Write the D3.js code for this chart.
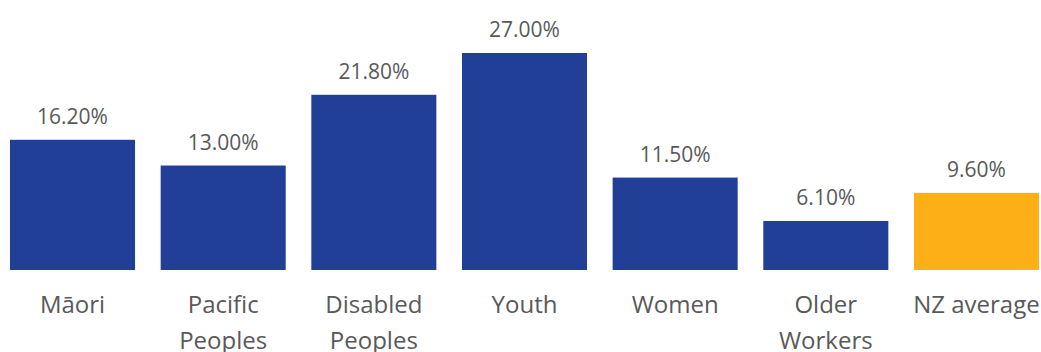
<!DOCTYPE html>
<html>
<head>
<meta charset="utf-8">
<script src="https://cdn.jsdelivr.net/npm/d3@7"></script>
<style>
  body { margin: 0; background: #fff; }
  text { font-family: "Open Sans", sans-serif; fill: #595959; }
</style>
</head>
<body>
<div id="chart"></div>
<script>
// unemployment-style rates by group
const categories = [["Māori"], ["Pacific", "Peoples"], ["Disabled", "Peoples"], ["Youth"], ["Women"], ["Older", "Workers"], ["NZ average"]];
const values = [16.2, 13.0, 21.8, 27.0, 11.5, 6.1, 9.6];
const highlight = [false, false, false, false, false, false, true];

const width = 1041, height = 352;
const svg = d3.select("#chart").append("svg")
  .attr("width", width)
  .attr("height", height);

const x = d3.scaleBand()
  .domain(d3.range(values.length))
  .range([10, 1039])
  .paddingInner(0.17)
  .paddingOuter(0);

const y = d3.scaleLinear()
  .domain([0, 27])
  .range([270, 53]);

svg.append("g").selectAll("rect")
  .data(values)
  .enter().append("rect")
  .attr("x", (d, i) => x(i))
  .attr("y", d => y(d))
  .attr("width", x.bandwidth())
  .attr("height", d => y(0) - y(d))
  .attr("fill", (d, i) => highlight[i] ? "#FDAF17" : "#223F98");

svg.append("g").selectAll("text")
  .data(values)
  .enter().append("text")
  .attr("x", (d, i) => x(i) + x.bandwidth() / 2)
  .attr("y", d => y(d) - 16)
  .attr("text-anchor", "middle")
  .attr("font-size", 21)
  .text(d => d.toFixed(2) + "%");

const labels = svg.append("g").selectAll("text")
  .data(categories)
  .enter().append("text")
  .attr("x", (d, i) => x(i) + x.bandwidth() / 2)
  .attr("y", 313)
  .attr("text-anchor", "middle")
  .attr("font-size", 24);

labels.selectAll("tspan")
  .data(d => d)
  .enter().append("tspan")
  .attr("x", function() { return this.parentNode.getAttribute("x"); })
  .attr("dy", (d, i) => i === 0 ? 0 : 36)
  .text(d => d);
</script>
</body>
</html>
